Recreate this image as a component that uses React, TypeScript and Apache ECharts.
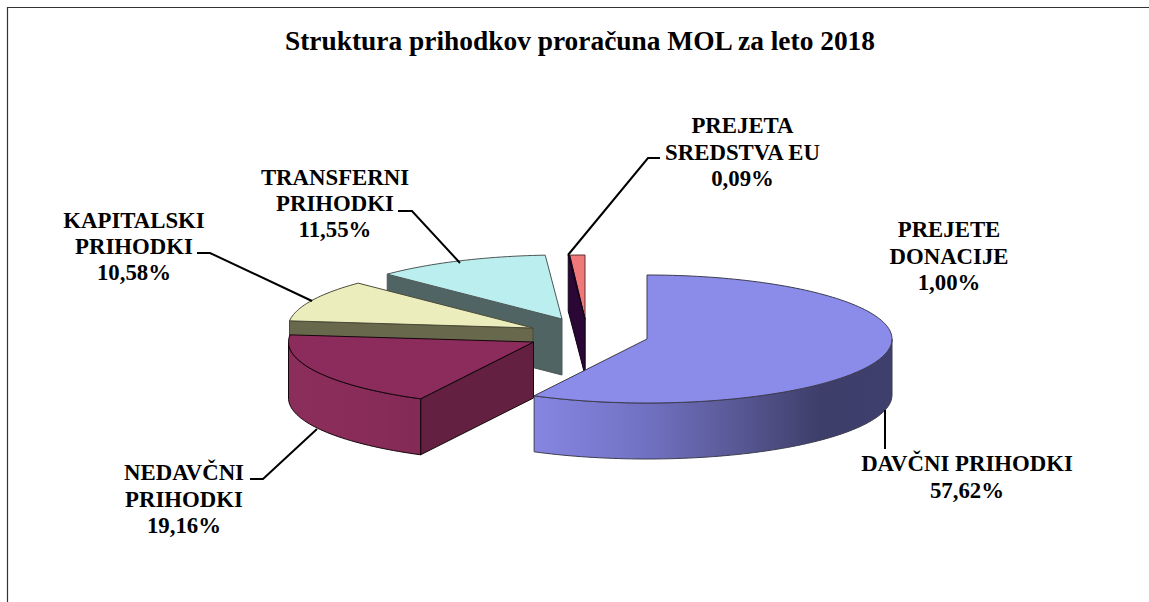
import React, { useEffect, useRef } from "react";
import * as echarts from "echarts";

const TITLE = "Struktura prihodkov proračuna MOL za leto 2018";
// clockwise from 12 o'clock
const categories = [
  "DAVČNI PRIHODKI",
  "NEDAVČNI PRIHODKI",
  "KAPITALSKI PRIHODKI",
  "TRANSFERNI PRIHODKI",
  "PREJETA SREDSTVA EU",
  "PREJETE DONACIJE",
];
const values = [57.62, 19.16, 10.58, 11.55, 0.09, 1.0];
const labelTexts = [
  "DAVČNI PRIHODKI\n57,62%",
  "NEDAVČNI\nPRIHODKI\n19,16%",
  "KAPITALSKI\nPRIHODKI\n10,58%",
  "TRANSFERNI\nPRIHODKI\n11,55%",
  "PREJETA\nSREDSTVA EU\n0,09%",
  "PREJETE\nDONACIJE\n1,00%",
];

// styling / layout (not data)
const RX = 245;
const RY = 64;
const DEPTH = 56;
const apexes = [
  [647, 339],
  [533.5, 342],
  [533, 328],
  [562, 319],
  [585, 319],
  [585, 319],
];
const drawOrder = [6, 5, 4, 1, 3, 2];
const topColors = ["#8b8bea", "#8c2c5c", "#ecedbc", "#bbeeee", "#2a0a3a", "#f07878"];
const faceColors = ["#50508c", "#632040", "#68684c", "#506464", "#2a0735", "#8c3c3c"];
const sideStops = [
  [[0, "#8686e2"], [0.3, "#7272c4"], [0.55, "#5a5a98"], [0.8, "#3e3e6a"], [1, "#3f3f6e"]],
  [[0, "#8b2e5c"], [0.5, "#8a2c5a"], [1, "#832a56"]],
  [[0, "#68684c"], [1, "#68684c"]],
  [[0, "#506464"], [1, "#506464"]],
  [[0, "#2a0735"], [1, "#2a0735"]],
  [[0, "#8c3c3c"], [1, "#8c3c3c"]],
];
const edgeColors = ["#3c3c50", "#14060c", "#4a4a38", "#4c5656", "#14041a", "#5c3030"];
const labelPos = [
  [967, 477],
  [184, 499],
  [134, 246.5],
  [335, 203.5],
  [742.5, 152],
  [949, 256],
];
const leaders = [
  [[885, 410], [885, 449]],
  [[250, 479], [263, 479], [317, 429]],
  [[197, 253], [210, 253], [312, 301]],
  [[398, 211], [412, 211], [460, 263]],
  [[660, 158], [648, 158], [568, 255]],
];

const total = values.reduce((a, b) => a + b, 0);
const rad = (d: number) => (d * Math.PI) / 180;

function pt(c: number[], deg: number, dy = 0) {
  return [c[0] + RX * Math.sin(rad(deg)), c[1] - RY * Math.cos(rad(deg)) + dy];
}
function arc(c: number[], a: number, b: number, dy = 0) {
  const n = Math.max(2, Math.ceil(Math.abs(b - a) / 1.5));
  const out: number[][] = [];
  for (let i = 0; i <= n; i++) out.push(pt(c, a + ((b - a) * i) / n, dy));
  return out;
}

function renderItem(params: any, api: any) {
  const i = params.dataIndex;
  let before = 0;
  for (let k = 0; k < i; k++) before += values[k];
  const start = (before / total) * 360;
  const end = start + (api.value(0) / total) * 360;
  const c = apexes[i];
  const z = drawOrder[i] * 10;
  const stroke = edgeColors[i];
  const children: any[] = [];

  if (start > 180 && start < 360) {
    const o = pt(c, start);
    children.push({
      type: "polygon",
      z2: z,
      shape: { points: [c, o, [o[0], o[1] + DEPTH], [c[0], c[1] + DEPTH]] },
      style: { fill: faceColors[i], stroke, lineWidth: 1 },
    });
  }
  const a = Math.max(start, 90);
  const b = Math.min(end, 270);
  if (b > a) {
    const topArc = arc(c, a, b);
    const botArc = arc(c, b, a, DEPTH);
    children.push({
      type: "polygon",
      z2: z + 1,
      shape: { points: [...topArc, ...botArc] },
      style: {
        fill: new echarts.graphic.LinearGradient(
          0, 0, 1, 0,
          sideStops[i].map((s: any) => ({ offset: s[0], color: s[1] }))
        ),
        stroke,
        lineWidth: 1,
      },
    });
  }
  children.push({
    type: "polygon",
    z2: z + 2,
    shape: { points: [c, ...arc(c, start, end)] },
    style: { fill: topColors[i], stroke, lineWidth: 1 },
  });
  if (end >= 359.9) {
    children.push({
      type: "line",
      z2: z + 3,
      shape: { x1: c[0], y1: c[1], x2: c[0], y2: c[1] + DEPTH },
      style: { stroke: "#b05454", lineWidth: 1 },
    });
  }
  return { type: "group", children };
}

export default function App() {
  const ref = useRef<HTMLDivElement>(null);
  useEffect(() => {
    const chart = echarts.init(ref.current!, null, { renderer: "svg" });
    const FONT = '"Liberation Serif", "Times New Roman", serif';
    chart.setOption({
      animation: false,
      backgroundColor: "#ffffff",
      title: {
        text: TITLE,
        left: 575,
        top: 22,
        textAlign: "center",
        textStyle: { fontFamily: FONT, fontWeight: "bold", fontSize: 27.4, color: "#000" },
      },
      graphic: [
        {
          type: "polyline",
          silent: true,
          z: 10,
          shape: { points: [[7.5, 602], [7.5, 7.5], [1149, 7.5]] },
          style: { stroke: "#333", lineWidth: 1.2, fill: "none" },
        },
        ...leaders.map((points) => ({
          type: "polyline",
          silent: true,
          z: 10,
          shape: { points },
          style: { stroke: "#000", lineWidth: 2, fill: "none" },
        })),
        ...labelTexts.map((text, i) => ({
          type: "text",
          silent: true,
          z: 10,
          x: labelPos[i][0],
          y: labelPos[i][1],
          style: {
            text,
            align: "center",
            verticalAlign: "middle",
            fontFamily: FONT,
            fontWeight: "bold",
            fontSize: 22.8,
            lineHeight: 26.3,
            fill: "#000",
          },
        })),
      ],
      series: [
        {
          type: "custom",
          coordinateSystem: "none",
          renderItem,
          silent: true,
          data: values.map((v, i) => ({ name: categories[i], value: [v] })),
        },
      ],
    });
    return () => chart.dispose();
  }, []);
  return (
    <div
      ref={ref}
      style={{ position: "absolute", left: 0, top: 0, width: 1149, height: 602, overflow: "hidden" }}
    />
  );
}
